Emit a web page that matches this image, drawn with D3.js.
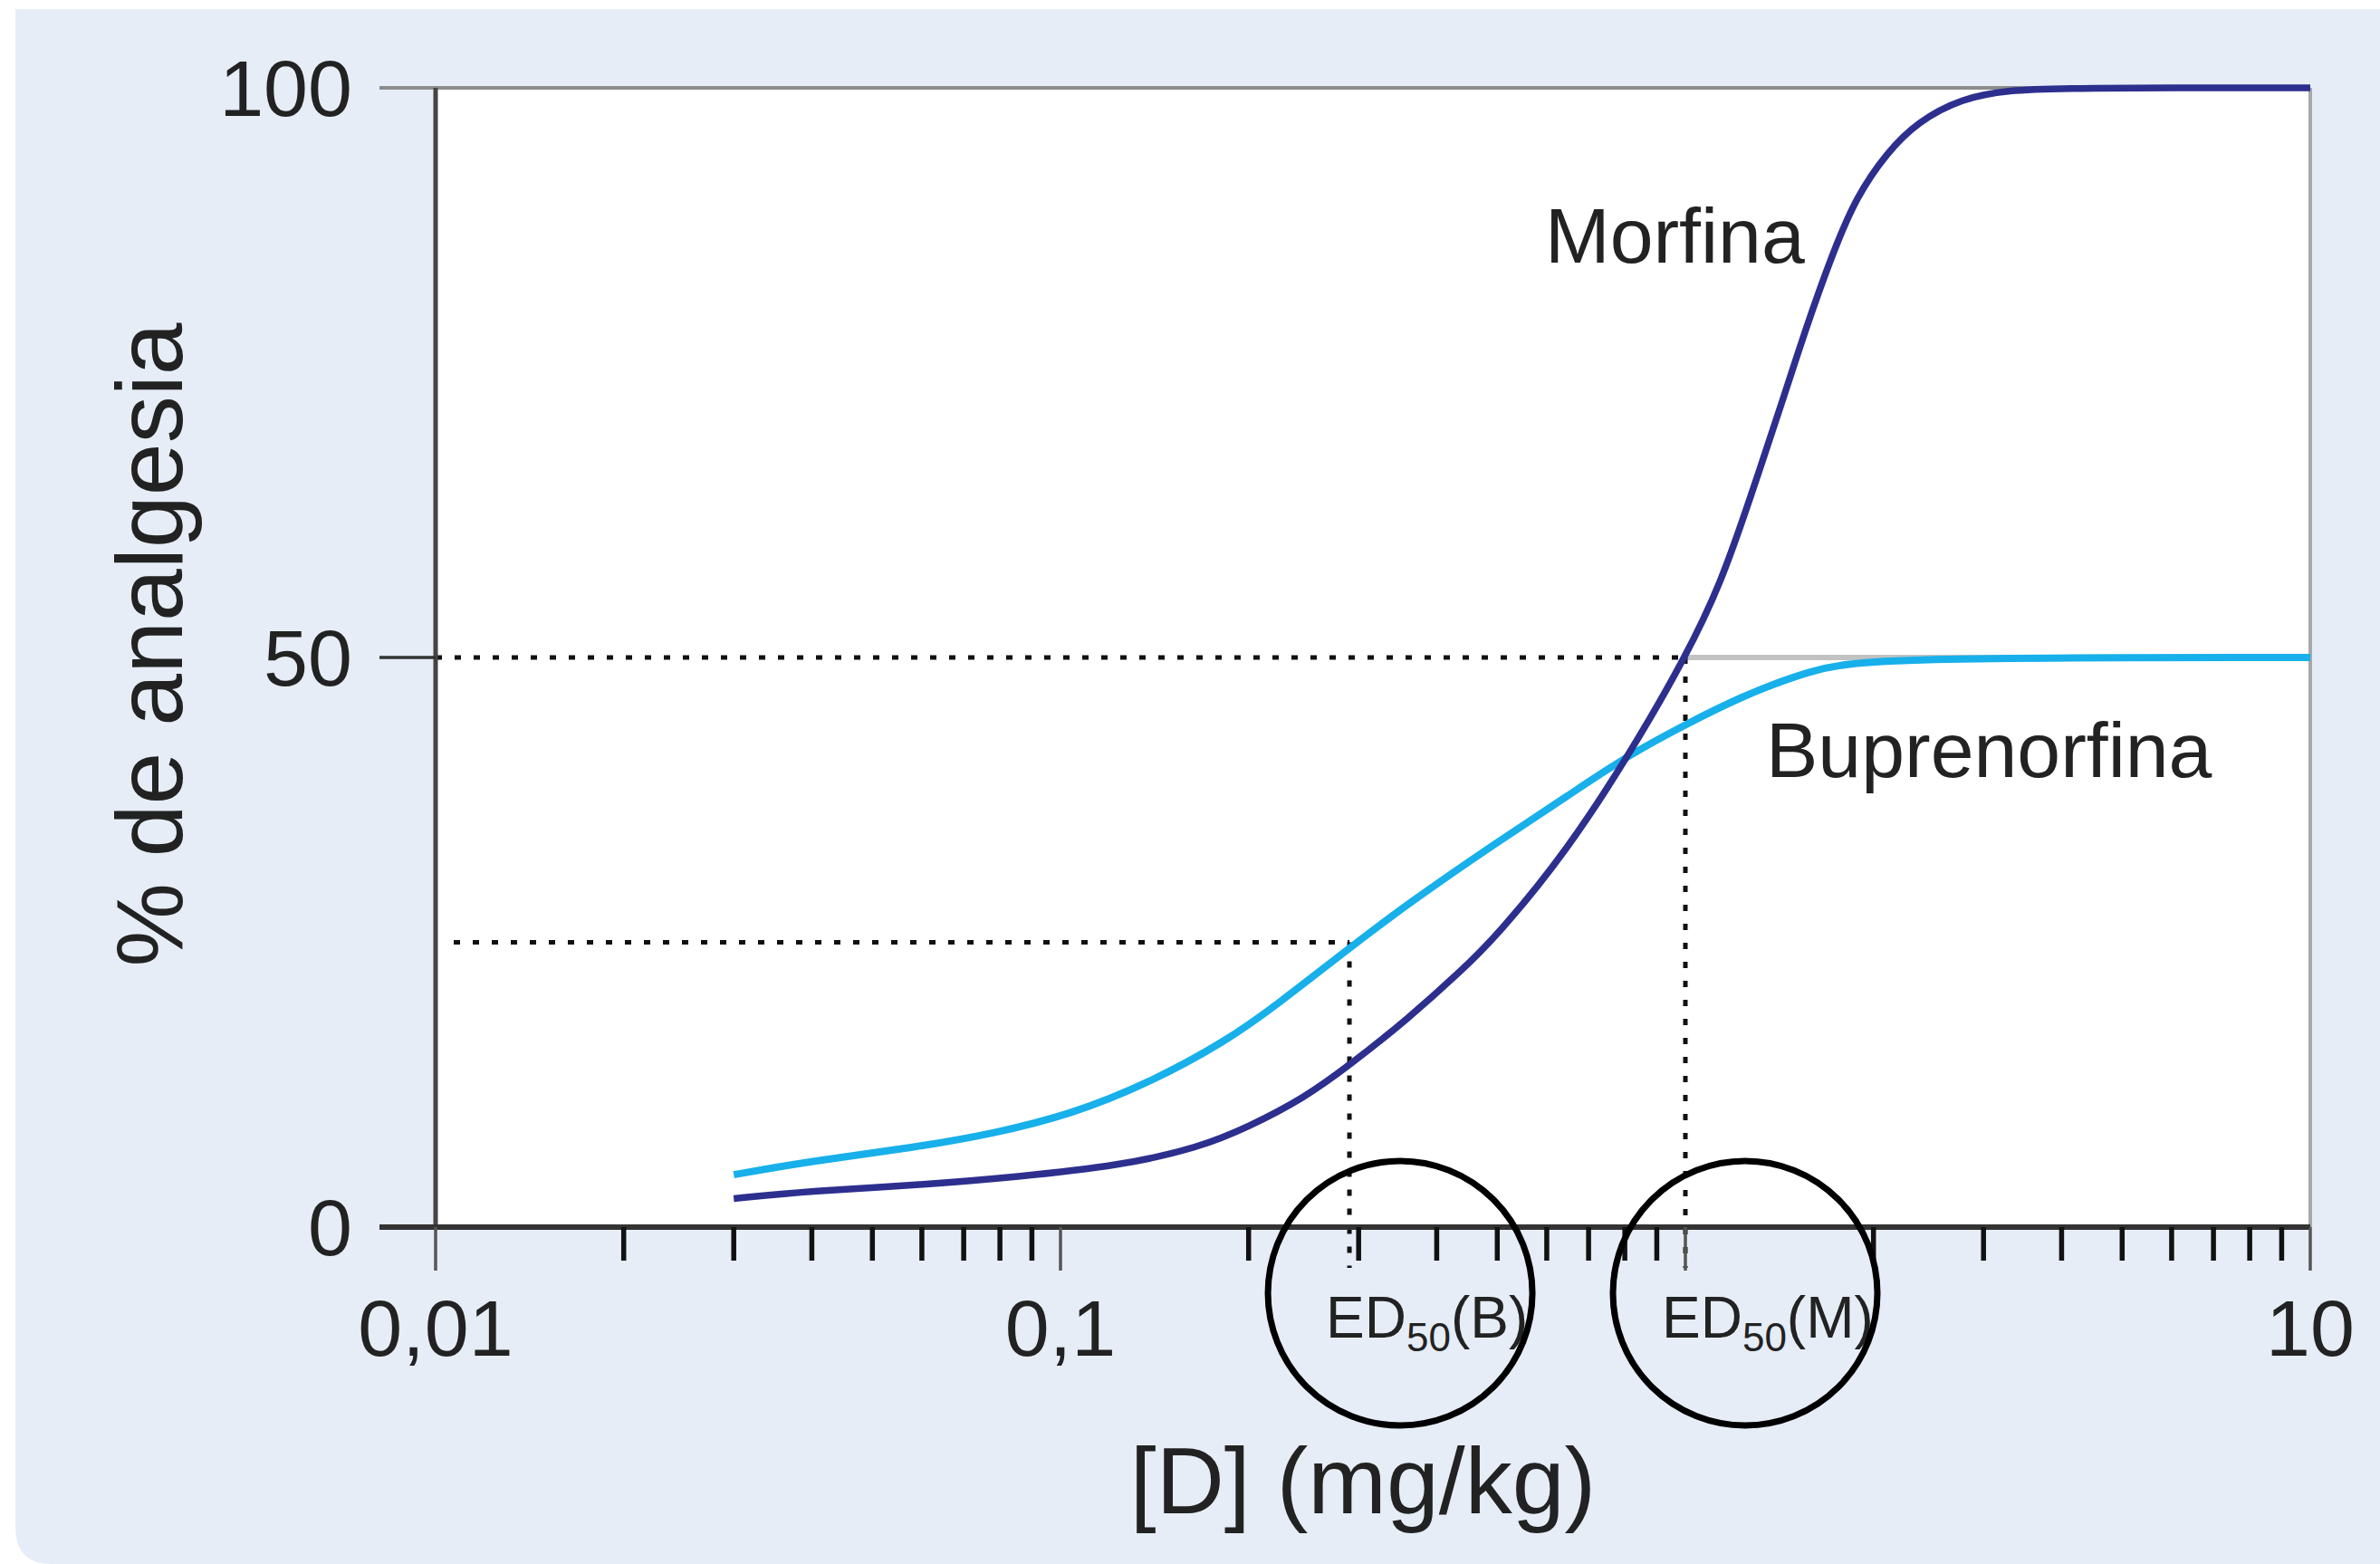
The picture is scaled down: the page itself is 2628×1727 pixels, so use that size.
<!DOCTYPE html>
<html>
<head>
<meta charset="utf-8">
<script src="https://cdn.jsdelivr.net/npm/d3@7"></script>
<style>
  html, body { margin: 0; padding: 0; background: #ffffff; }
  svg { display: block; }
  text { font-family: "Liberation Sans", Arial, Helvetica, sans-serif; fill: #222; }
</style>
</head>
<body>
<svg id="chart" width="2628" height="1727"></svg>
<script>
// ---------- data ----------
const morfinaDose  = [0.03, 0.04, 0.06, 0.085, 0.125, 0.167, 0.2, 0.245, 0.29, 0.36, 0.436, 0.5, 0.646, 0.82, 1.0, 1.14, 1.27, 1.43, 1.55, 1.72, 1.88, 2.1, 2.35, 2.77, 3.3, 4.0, 10];
const morfinaValue = [2.5, 3.2, 3.7, 4.4, 5.4, 7.0, 8.8, 11.3, 14.2, 18.3, 22.4, 25.6, 33.0, 41.8, 50, 56.5, 64, 72.5, 78.5, 85.5, 90.5, 94.3, 97, 99.1, 99.8, 100, 100];

const bupreDose  = [0.03, 0.04, 0.0585, 0.078, 0.104, 0.138, 0.184, 0.223, 0.29, 0.36, 0.5, 0.646, 0.82, 1.0, 1.22, 1.58, 2.0, 10];
const bupreValue = [4.6, 5.8, 7.0, 8.2, 9.9, 12.6, 16.3, 19.6, 24.5, 28.4, 33.8, 37.8, 41.6, 44.1, 46.5, 48.9, 50, 50];

const yTicks = [0, 50, 100];
const xMajorTicks = [0.01, 0.1, 1, 10];
const xTickLabels = ["0,01", "0,1", "", "10"];
const seriesNames = ["Morfina", "Buprenorfina"];
const ed50Names = ["B", "M"];
const ed50Dose = [0.29, 1.0];
const ed50Level = [25, 50];

// ---------- layout ----------
(function () {
const W = 2628, H = 1727;
const pL = 481, pR = 2551, pT = 97, pB = 1355;
const svg = d3.select("#chart");

const x = d3.scaleLog().domain([0.01, 10]).range([pL, pR]);
const y = d3.scaleLinear().domain([0, 100]).range([pB, pT]);

// background panel (rounded bottom-left corner)
const px = 17, py = 10, rr = 40;
svg.append("path")
  .attr("d", `M${px},${py} H${W} V${H} H${px + rr} Q${px},${H} ${px},${H - rr} Z`)
  .attr("fill", "#e6edf6");

// plot area
svg.append("rect").attr("x", pL).attr("y", pT)
  .attr("width", pR - pL).attr("height", pB - pT).attr("fill", "#ffffff");

// top and right frame
svg.append("line").attr("x1", pL - 62).attr("x2", pR).attr("y1", y(100)).attr("y2", y(100))
  .attr("stroke", "#8c8c8c").attr("stroke-width", 4);
svg.append("line").attr("x1", pR).attr("x2", pR).attr("y1", pT).attr("y2", pB)
  .attr("stroke", "#a8a8a8").attr("stroke-width", 4);

// grey 50% reference continuation
svg.append("line").attr("x1", x(ed50Dose[1])).attr("x2", pR)
  .attr("y1", y(50)).attr("y2", y(50))
  .attr("stroke", "#c2c2c2").attr("stroke-width", 6);

// dotted ED50 guides
const dotted = svg.append("g").attr("stroke", "#111").attr("stroke-width", 5)
  .attr("stroke-dasharray", "7,14").attr("fill", "none");
ed50Dose.forEach((d, i) => {
  dotted.append("line").attr("x1", pL + (i === 0 ? 20 : 0)).attr("x2", x(d))
    .attr("y1", y(ed50Level[i])).attr("y2", y(ed50Level[i]));
  dotted.append("line").attr("x1", x(d)).attr("x2", x(d))
    .attr("y1", y(ed50Level[i])).attr("y2", pB + 45);
});

// curves
const line = d3.line().x(d => x(d[0])).y(d => y(d[1])).curve(d3.curveBasis);
const bupData = bupreDose.map((d, i) => [d, bupreValue[i]]);
const morData = morfinaDose.map((d, i) => [d, morfinaValue[i]]);
svg.append("path").datum(bupData).attr("d", line)
  .attr("fill", "none").attr("stroke", "#17b0ea").attr("stroke-width", 8)
  .attr("stroke-linecap", "butt");
svg.append("path").datum(morData).attr("d", line)
  .attr("fill", "none").attr("stroke", "#2d2f8e").attr("stroke-width", 7.5)
  .attr("stroke-linecap", "butt");

// y axis
svg.append("line").attr("x1", pL).attr("x2", pL).attr("y1", pT).attr("y2", pB)
  .attr("stroke", "#444").attr("stroke-width", 5);
const yAxis = svg.append("g");
yTicks.forEach(t => {
  if (t !== 100) {
    yAxis.append("line").attr("x1", pL - 62).attr("x2", pL)
      .attr("y1", y(t)).attr("y2", y(t)).attr("stroke", "#333").attr("stroke-width", 3.5);
  }
  yAxis.append("text").attr("x", pL - 92).attr("y", y(t))
    .attr("dy", "0.35em").attr("text-anchor", "end")
    .attr("font-size", 88).text(t);
});

// x axis line
svg.append("line").attr("x1", pL - 62).attr("x2", pR).attr("y1", pB).attr("y2", pB)
  .attr("stroke", "#333").attr("stroke-width", 6);

// minor ticks
const minor = [];
[0.01, 0.1, 1].forEach(dec => { for (let k = 2; k <= 9; k++) minor.push(dec * k); });
svg.append("g").selectAll("line").data(minor).join("line")
  .attr("x1", d => x(d)).attr("x2", d => x(d))
  .attr("y1", pB).attr("y2", pB + 37)
  .attr("stroke", "#111").attr("stroke-width", 5.5);

// major ticks + labels
xMajorTicks.forEach((t, i) => {
  svg.append("line").attr("x1", x(t)).attr("x2", x(t))
    .attr("y1", pB).attr("y2", pB + 48)
    .attr("stroke", "#555").attr("stroke-width", 3.5);
  if (xTickLabels[i]) {
    svg.append("text").attr("x", x(t)).attr("y", 1497)
      .attr("text-anchor", "middle").attr("font-size", 88).text(xTickLabels[i]);
  }
});

// axis titles
svg.append("text").attr("x", 1505).attr("y", 1671).attr("text-anchor", "middle")
  .attr("font-size", 104).text("[D] (mg/kg)");
svg.append("text").attr("transform", "translate(201,712) rotate(-90)")
  .attr("text-anchor", "middle").attr("font-size", 104).text("% de analgesia");

// series labels
svg.append("text").attr("x", 1706).attr("y", 290).attr("font-size", 86).text(seriesNames[0]);
svg.append("text").attr("x", 1950).attr("y", 858).attr("font-size", 86).text(seriesNames[1]);

// ED50 labels and circles
const circleOffset = [56, 66];
ed50Dose.forEach((d, i) => {
  const t = svg.append("text").attr("x", x(d) - 26).attr("y", 1477).attr("font-size", 64)
    .attr("fill", "#222");
  t.append("tspan").text("ED");
  t.append("tspan").attr("font-size", 44).attr("dy", 15).text("50");
  t.append("tspan").attr("dy", -15).text("(" + ed50Names[i] + ")");
  svg.append("circle").attr("cx", x(d) + circleOffset[i]).attr("cy", 1428).attr("r", 146)
    .attr("fill", "none").attr("stroke", "#000").attr("stroke-width", 7);
});
})();
</script>
</body>
</html>
